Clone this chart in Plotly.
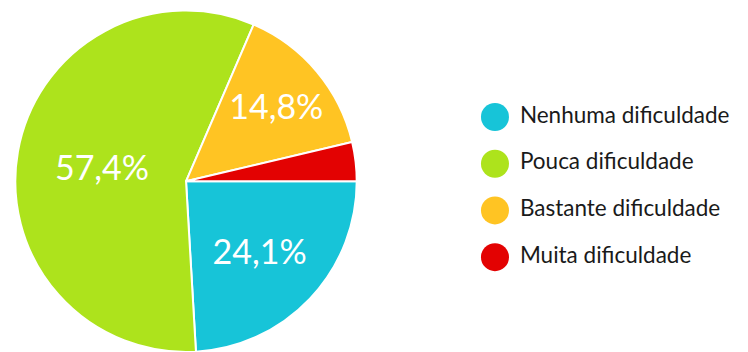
import plotly.graph_objects as go

categories = ["Nenhuma dificuldade", "Pouca dificuldade", "Bastante dificuldade", "Muita dificuldade"]
counts = [13, 31, 8, 2]
colors = ["#17C4D8", "#ADE31C", "#FFC423", "#E30202"]
show_label = [True, True, True, False]

total = sum(counts)
pct_text = [(f"{c / total * 100:.1f}%".replace(".", ",") if s else "") for c, s in zip(counts, show_label)]

fig = go.Figure()
fig.add_trace(go.Pie(
    labels=categories,
    values=counts,
    text=pct_text,
    textinfo="text",
    textposition="inside",
    insidetextorientation="horizontal",
    textfont=dict(family="Lato", size=34, color="white"),
    marker=dict(colors=colors, line=dict(color="white", width=2)),
    sort=False,
    direction="clockwise",
    rotation=90,
    domain=dict(x=[0.0205, 0.4769], y=[0.0, 0.97]),
    showlegend=False,
    hoverinfo="skip",
))

# Legend drawn as scatter traces so the swatches are large circles
legend_y = list(range(len(categories) - 1, -1, -1))
fig.add_trace(go.Scatter(
    x=[0] * len(categories),
    y=legend_y,
    mode="markers",
    marker=dict(size=28, color=colors, symbol="circle"),
    showlegend=False,
    hoverinfo="skip",
    cliponaxis=False,
))
fig.add_trace(go.Scatter(
    x=[0.54] * len(categories),
    y=legend_y,
    mode="text",
    text=categories,
    textposition="middle right",
    textfont=dict(family="Lato", size=22.5, color="#1a1a1a"),
    showlegend=False,
    hoverinfo="skip",
    cliponaxis=False,
))

fig.update_layout(
    width=748, height=352,
    margin=dict(l=0, r=0, t=0, b=0),
    paper_bgcolor="white", plot_bgcolor="white",
    xaxis=dict(domain=[0.6, 1.0], range=[-1, 5.48], visible=False, fixedrange=True),
    yaxis=dict(domain=[0, 1], range=[-2.03, 5.505], visible=False, fixedrange=True),
)

fig.write_html("out.html")
